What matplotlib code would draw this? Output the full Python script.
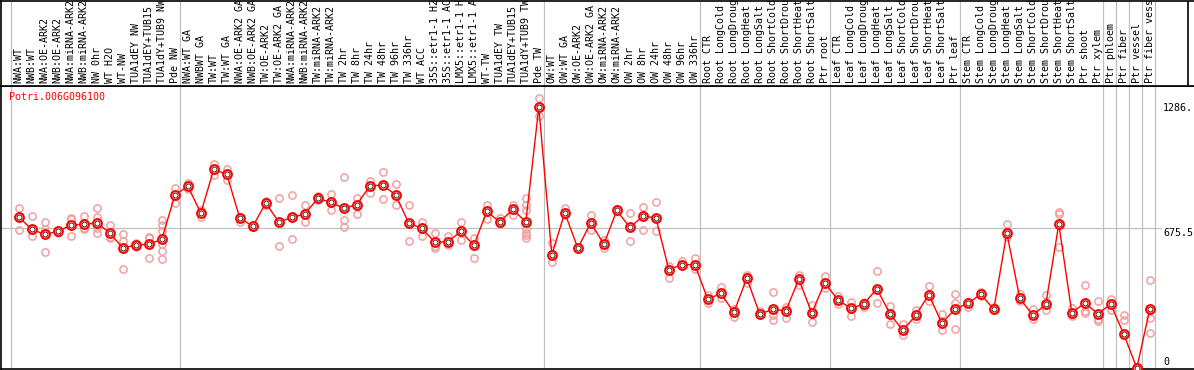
import matplotlib
matplotlib.use("Agg")
import matplotlib.pyplot as plt
from matplotlib.transforms import blended_transform_factory

gene = "Potri.006G096100"

labels = [
    "NWA:WT", "NWB:WT", "NWA:OE-ARK2", "NWB:OE-ARK2", "NWA:miRNA-ARK2", "NWB:miRNA-ARK2",
    "NW 0hr", "WT H2O", "WT-NW", "TUA1dEY NW", "TUA1dEY+TUB15", "TUA1dY+TUB9 NW", "Pde NW",
    "NWA:WT GA", "NWBWT GA", "TW:WT", "TW:WT GA", "NWA:OE-ARK2 GA", "NWB:OE-ARK2 GA",
    "TW:OE-ARK2", "TW:OE-ARK2 GA", "NWA:miRNA-ARK2", "NWB:miRNA-ARK2", "TW:miRNA-ARK2",
    "TW:miRNA-ARK2", "TW 2hr", "TW 8hr", "TW 24hr", "TW 48hr", "TW 96hr", "TW 336hr",
    "WT ACC", "35S::etr1-1 H2", "35S::etr1-1 AC", "LMX5::etr1-1 H", "LMX5::etr1-1 A",
    "WT-TW", "TUA1dEY TW", "TUA1dEY+TUB15", "TUA1dY+TUB9 TW", "Pde TW",
    "OW:WT", "OW:WT GA", "OW:OE-ARK2", "OW:OE-ARK2 GA", "OW:miRNA-ARK2", "OW:miRNA-ARK2",
    "OW 2hr", "OW 8hr", "OW 24hr", "OW 48hr", "OW 96hr", "OW 336hr",
    "Root CTR", "Root LongCold", "Root LongDroug", "Root LongHeat", "Root LongSalt",
    "Root ShortCold", "Root ShortDrou", "Root ShortHeat", "Root ShortSalt", "Ptr root",
    "Leaf CTR", "Leaf LongCold", "Leaf LongDroug", "Leaf LongHeat", "Leaf LongSalt",
    "Leaf ShortCold", "Leaf ShortDrou", "Leaf ShortHeat", "Leaf ShortSalt", "Ptr leaf",
    "Stem CTR", "Stem LongCold", "Stem LongDroug", "Stem LongHeat", "Stem LongSalt",
    "Stem ShortCold", "Stem ShortDrou", "Stem ShortHeat", "Stem ShortSalt",
    "Ptr shoot", "Ptr xylem", "Ptr phloem", "Ptr fiber", "Ptr vessel", "Ptr fiber vess",
]

means = [
    730, 670, 646, 661, 690, 696, 701, 654, 579, 596, 598, 622, 835,
    880, 749, 961, 936, 725, 685, 798, 706, 728, 745, 820, 801, 772, 790, 880, 885,
    836, 700, 675, 609, 609, 661, 593, 757, 706, 767, 706, 1260,
    548, 751, 579, 703, 598, 762, 680, 733, 727, 476, 500, 500,
    332, 361, 269, 434, 260, 284, 276, 429, 266, 413,
    329, 289, 308, 384, 263, 182, 255, 355, 216, 284,
    313, 356, 284, 653, 337, 255, 308, 696, 268,
    314, 263, 308, 163, 0, 284,
]

replicates = [
    [774, 669, 730], [733, 640, 670], [706, 561, 670], [661, 667, 654], [724, 637, 719],
    [733, 670, 679], [774, 730, 679, 654], [690, 635, 629], [646, 613, 477], [604, 585, 596],
    [630, 530, 633], [716, 690, 662, 598, 566, 525], [869, 796, 835],
    [896, 864, 880], [764, 732, 749], [985, 932, 961], [961, 907, 936], [732, 706, 725],
    [690, 685, 682], [808, 788, 798], [822, 588, 706], [837, 624, 728], [788, 706, 745],
    [830, 812, 820], [841, 762, 801], [924, 717, 680], [824, 745, 790], [904, 848, 880],
    [946, 816, 885], [888, 788, 836], [788, 614, 700], [708, 640, 675], [653, 590, 579],
    [640, 593, 609], [708, 619, 661], [630, 530, 593], [788, 719, 757], [724, 696, 706],
    [788, 738, 767], [820, 788, 762, 670, 654, 643, 629], [1304, 1219, 1260],
    [606, 513, 548], [774, 738, 751], [579, 575, 583], [738, 667, 703], [617, 579, 598],
    [767, 762, 758], [749, 614, 680], [777, 669, 733], [801, 661, 727], [492, 437, 476],
    [519, 500, 497], [532, 477, 500],
    [351, 316, 332], [390, 337, 361], [287, 248, 269], [451, 413, 434], [276, 255, 260],
    [368, 255, 231], [295, 240, 276], [448, 400, 429], [305, 224, 266], [445, 387, 413],
    [348, 308, 329], [319, 251, 289], [319, 297, 308], [469, 313, 384], [300, 213, 263],
    [213, 158, 182], [280, 239, 255], [397, 324, 355], [260, 182, 216], [358, 313, 187],
    [321, 297, 313], [369, 356, 350], [295, 284, 280], [696, 635, 653], [358, 324, 337],
    [284, 235, 255], [351, 280, 308], [754, 745, 587], [292, 251, 268],
    [401, 276, 264], [324, 235, 227], [335, 280, 308], [255, 231, 163], [5, 0, 0],
    [426, 243, 171],
]

group_ends = [-1, 12, 40, 52, 62, 72, 83, 84, 85, 86, 87]

W, H = 1194, 370
fig = plt.figure(figsize=(W / 100, H / 100), dpi=100)

mono = "DejaVu Sans Mono"
fs = 7.2

# pixel mapping: index i -> x = 18.8 + 13*i
x_left = (1 - 18.8) / 13.0
x_right = (1194 - 18.8) / 13.0

ax = fig.add_axes([1 / W, 1 / H, (W - 1) / W, (369 - 86) / H])
lab = fig.add_axes([1 / W, (H - 86) / H, (W - 1) / W, 85.5 / H])

xs = list(range(len(labels)))
ax.set_xlim(x_left, x_right)
ax.set_ylim(-4.8, 1363.5)
lab.set_xlim(x_left, x_right)
lab.set_ylim(0, 1)

for a in (ax, lab):
    a.set_xticks([])
    a.set_yticks([])
    for s in a.spines.values():
        s.set_color("black")
        s.set_linewidth(1.2)
ax.spines["right"].set_visible(False)
lab.spines["right"].set_visible(False)
lab.axvline((1188 - 18.8) / 13.0, color="black", lw=1.2)

for b in group_ends:
    xb = b + 0.5 - 0.13
    ax.axvline(xb, color="#c0c0c0", lw=0.9, zorder=1)
    lab.axvline(xb, color="#c0c0c0", lw=0.9, zorder=1)

ax.hlines(675.5, x_left, (1161 - 18.8) / 13.0, color="#c0c0c0", lw=0.9, zorder=1)

# replicates
rx, ry = [], []
for i, reps in enumerate(replicates):
    for v in reps:
        rx.append(i)
        ry.append(v)
ax.plot(rx, ry, linestyle="none", marker="o", ms=5.2, mfc="none",
        mec="#f0a0a0", mew=1.1, zorder=2)

ax.plot(xs, means, color="red", lw=1.0, zorder=3)
ax.plot(xs, means, linestyle="none", marker="o", ms=6.3, mfc="white",
        mec="red", mew=1.5, zorder=4)
ax.plot(xs, means, linestyle="none", marker="o", ms=3.6, mfc="none",
        mec="#300000", mew=0.6, zorder=5)

trans = blended_transform_factory(lab.transData, lab.transAxes)
for i, t in enumerate(labels):
    lab.text(i, 0.03, t, rotation=90, ha="center", va="bottom", fontsize=fs,
             family=mono, color="black", transform=trans, clip_on=True)

fig.text(9.5 / W, 1 - 97 / H, gene, color="red", fontsize=fs, family=mono,
         ha="left", va="center")
for txt, ypx in [("1286.", 107.7), ("675.5", 232.7), ("0", 362)]:
    fig.text(1163 / W, 1 - ypx / H, txt, color="black", fontsize=fs, family=mono,
             ha="left", va="center")

fig.savefig("out.png", dpi=100)
